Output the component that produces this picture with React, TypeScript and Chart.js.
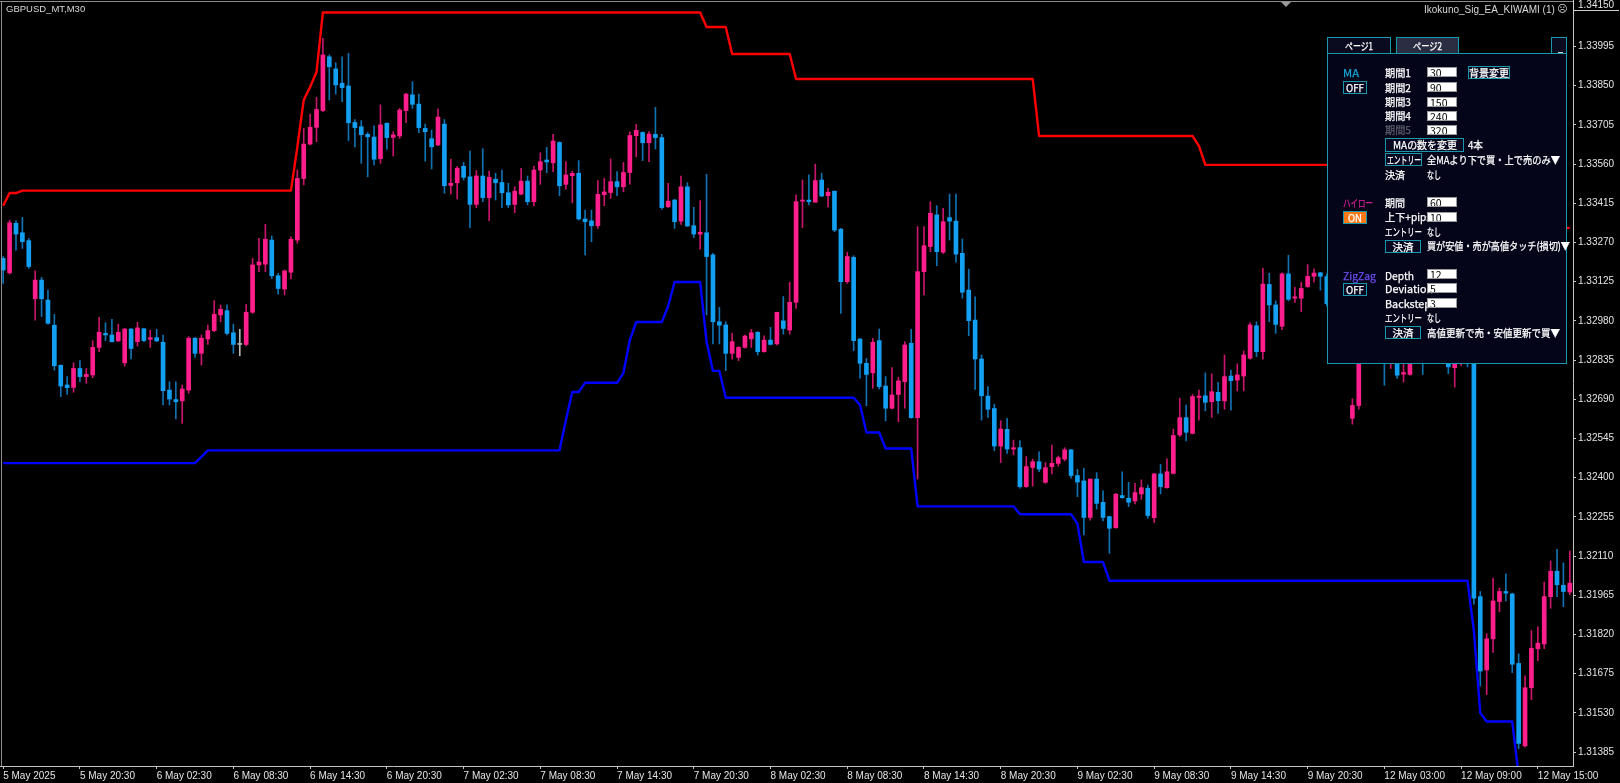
import React, { useEffect, useLayoutEffect, useRef } from 'react';
import { Chart, registerables } from 'chart.js';

Chart.register(...registerables);

// ---------- DATA (GBPUSD M30) ----------
const opens = [
  1.33211, 1.33158, 1.33341, 1.33306, 1.33277, 1.33062, 1.33131, 1.33057, 1.32964, 1.32816,
  1.32743, 1.32734, 1.32804, 1.32774, 1.32780, 1.32882, 1.32934, 1.32928, 1.32906, 1.32825,
  1.32950, 1.32903, 1.32951, 1.32912, 1.32918, 1.32901, 1.32724, 1.32689, 1.32684, 1.32724,
  1.32916, 1.32860, 1.32913, 1.32944, 1.33002, 1.33018, 1.32936, 1.32893, 1.32893, 1.33012,
  1.33187, 1.33190, 1.33279, 1.33147, 1.33098, 1.33160, 1.33279, 1.33507, 1.33634, 1.33696,
  1.33758, 1.33957, 1.33912, 1.33859, 1.33849, 1.33714, 1.33698, 1.33670, 1.33660, 1.33580,
  1.33711, 1.33659, 1.33664, 1.33758, 1.33816, 1.33782, 1.33692, 1.33654, 1.33631, 1.33708,
  1.33481, 1.33491, 1.33552, 1.33513, 1.33411, 1.33516, 1.33436, 1.33504, 1.33492, 1.33454,
  1.33411, 1.33449, 1.33497, 1.33421, 1.33538, 1.33575, 1.33565, 1.33640, 1.33485, 1.33517,
  1.33526, 1.33357, 1.33350, 1.33332, 1.33447, 1.33455, 1.33495, 1.33476, 1.33529, 1.33665,
  1.33677, 1.33639, 1.33670, 1.33658, 1.33402, 1.33427, 1.33349, 1.33476, 1.33332, 1.33301,
  1.33306, 1.33224, 1.32977, 1.32965, 1.32860, 1.32845, 1.32882, 1.32914, 1.32938, 1.32866,
  1.32909, 1.32895, 1.32980, 1.32946, 1.33049, 1.33423, 1.33427, 1.33419, 1.33501, 1.33443,
  1.33460, 1.33319, 1.33125, 1.33215, 1.32913, 1.32823, 1.32788, 1.32907, 1.32739, 1.32657,
  1.32708, 1.32755, 1.32897, 1.32622, 1.33162, 1.33255, 1.33372, 1.33234, 1.33362, 1.33349,
  1.33230, 1.33094, 1.32983, 1.32839, 1.32702, 1.32656, 1.32517, 1.32579, 1.32506, 1.32511,
  1.32367, 1.32438, 1.32459, 1.32383, 1.32441, 1.32453, 1.32469, 1.32503, 1.32408, 1.32388,
  1.32253, 1.32395, 1.32309, 1.32256, 1.32215, 1.32334, 1.32324, 1.32314, 1.32340, 1.32361,
  1.32252, 1.32414, 1.32363, 1.32416, 1.32558, 1.32622, 1.32564, 1.32697, 1.32703, 1.32681,
  1.32716, 1.32684, 1.32776, 1.32761, 1.32776, 1.32842, 1.32962, 1.32866, 1.33115, 1.33039,
  1.32960, 1.33154, 1.33064, 1.33064, 1.33107, 1.33145, 1.33158, 1.33144, 1.33044, 1.33079,
  1.32904, 1.32620, 1.32667, 1.32904, 1.32967, 1.32917, 1.32942, 1.32854, 1.32879, 1.32783,
  1.32782, 1.32854, 1.32892, 1.32842, 1.32867, 1.32904, 1.32854, 1.32807, 1.32829, 1.32854,
  1.32835, 1.31960, 1.31689, 1.31804, 1.31942, 1.31979, 1.31970, 1.31713, 1.31408, 1.31623,
  1.31767, 1.31785, 1.31960, 1.32054, 1.32002, 1.31977,
];
const highs = [
  1.33218, 1.33353, 1.33350, 1.33363, 1.33285, 1.33165, 1.33141, 1.33094, 1.33004, 1.32817,
  1.32774, 1.32825, 1.32833, 1.32804, 1.32907, 1.32993, 1.32973, 1.32986, 1.32968, 1.32952,
  1.32952, 1.32975, 1.32952, 1.32946, 1.32949, 1.32928, 1.32755, 1.32755, 1.32743, 1.32922,
  1.32918, 1.32928, 1.32965, 1.33055, 1.33039, 1.33039, 1.32968, 1.32949, 1.33041, 1.33211,
  1.33285, 1.33337, 1.33294, 1.33156, 1.33168, 1.33291, 1.33538, 1.33692, 1.33745, 1.33807,
  1.34025, 1.33964, 1.33935, 1.33957, 1.33970, 1.33725, 1.33721, 1.33677, 1.33702, 1.33779,
  1.33713, 1.33680, 1.33766, 1.33822, 1.33865, 1.33819, 1.33708, 1.33686, 1.33764, 1.33725,
  1.33578, 1.33551, 1.33566, 1.33608, 1.33536, 1.33617, 1.33534, 1.33526, 1.33538, 1.33489,
  1.33476, 1.33544, 1.33516, 1.33553, 1.33602, 1.33622, 1.33670, 1.33643, 1.33569, 1.33534,
  1.33573, 1.33390, 1.33390, 1.33499, 1.33507, 1.33579, 1.33532, 1.33566, 1.33679, 1.33707,
  1.33680, 1.33680, 1.33770, 1.33670, 1.33489, 1.33430, 1.33516, 1.33491, 1.33400, 1.33425,
  1.33522, 1.33230, 1.33030, 1.32977, 1.32934, 1.32885, 1.32928, 1.32949, 1.32940, 1.32925,
  1.32956, 1.33012, 1.33070, 1.33123, 1.33446, 1.33501, 1.33520, 1.33560, 1.33526, 1.33470,
  1.33460, 1.33322, 1.33234, 1.33221, 1.32915, 1.32841, 1.32915, 1.32950, 1.32774, 1.32807,
  1.32771, 1.32903, 1.32949, 1.33329, 1.33329, 1.33421, 1.33406, 1.33396, 1.33449, 1.33449,
  1.33283, 1.33171, 1.33069, 1.32854, 1.32737, 1.32672, 1.32611, 1.32620, 1.32539, 1.32537,
  1.32478, 1.32468, 1.32496, 1.32456, 1.32521, 1.32480, 1.32511, 1.32505, 1.32431, 1.32435,
  1.32395, 1.32419, 1.32351, 1.32258, 1.32342, 1.32422, 1.32383, 1.32379, 1.32392, 1.32373,
  1.32416, 1.32449, 1.32470, 1.32580, 1.32694, 1.32669, 1.32708, 1.32724, 1.32788, 1.32784,
  1.32752, 1.32854, 1.32798, 1.32821, 1.32869, 1.32973, 1.32977, 1.33174, 1.33156, 1.33054,
  1.33158, 1.33223, 1.33104, 1.33123, 1.33188, 1.33173, 1.33160, 1.33154, 1.33104, 1.33092,
  1.32917, 1.32692, 1.32917, 1.32992, 1.33004, 1.32967, 1.32954, 1.32904, 1.32892, 1.32842,
  1.32879, 1.32917, 1.32917, 1.32904, 1.32929, 1.32917, 1.32867, 1.32854, 1.32879, 1.32867,
  1.32854, 1.31979, 1.31823, 1.32029, 1.31992, 1.32044, 1.31973, 1.31748, 1.31667, 1.31835,
  1.31848, 1.32014, 1.32092, 1.32135, 1.32085, 1.32129,
];
const lows = [
  1.33119, 1.33153, 1.33242, 1.33248, 1.33174, 1.32983, 1.32996, 1.32968, 1.32798, 1.32700,
  1.32708, 1.32716, 1.32755, 1.32749, 1.32770, 1.32866, 1.32907, 1.32902, 1.32903, 1.32813,
  1.32839, 1.32887, 1.32903, 1.32882, 1.32903, 1.32669, 1.32669, 1.32617, 1.32601, 1.32712,
  1.32845, 1.32817, 1.32893, 1.32940, 1.32977, 1.32928, 1.32860, 1.32851, 1.32888, 1.33008,
  1.33162, 1.33162, 1.33137, 1.33079, 1.33076, 1.33135, 1.33267, 1.33483, 1.33631, 1.33643,
  1.33754, 1.33797, 1.33819, 1.33791, 1.33647, 1.33624, 1.33563, 1.33513, 1.33557, 1.33563,
  1.33615, 1.33590, 1.33655, 1.33713, 1.33766, 1.33676, 1.33571, 1.33542, 1.33628, 1.33452,
  1.33449, 1.33431, 1.33501, 1.33325, 1.33399, 1.33421, 1.33351, 1.33427, 1.33399, 1.33399,
  1.33380, 1.33446, 1.33409, 1.33405, 1.33485, 1.33528, 1.33532, 1.33443, 1.33467, 1.33417,
  1.33353, 1.33224, 1.33273, 1.33322, 1.33406, 1.33433, 1.33443, 1.33458, 1.33486, 1.33587,
  1.33573, 1.33569, 1.33616, 1.33393, 1.33400, 1.33322, 1.33337, 1.33329, 1.33288, 1.33245,
  1.33002, 1.32895, 1.32895, 1.32796, 1.32838, 1.32833, 1.32879, 1.32882, 1.32854, 1.32864,
  1.32891, 1.32891, 1.32931, 1.32931, 1.33026, 1.33325, 1.33409, 1.33419, 1.33439, 1.33402,
  1.33310, 1.33008, 1.33119, 1.32870, 1.32768, 1.32666, 1.32731, 1.32728, 1.32610, 1.32654,
  1.32607, 1.32657, 1.32620, 1.32395, 1.33076, 1.33236, 1.33184, 1.33230, 1.33279, 1.33197,
  1.33064, 1.32925, 1.32727, 1.32613, 1.32623, 1.32500, 1.32456, 1.32490, 1.32484, 1.32361,
  1.32364, 1.32369, 1.32422, 1.32379, 1.32414, 1.32443, 1.32462, 1.32398, 1.32330, 1.32188,
  1.32243, 1.32284, 1.32240, 1.32120, 1.32213, 1.32324, 1.32293, 1.32303, 1.32320, 1.32250,
  1.32234, 1.32340, 1.32361, 1.32414, 1.32552, 1.32536, 1.32562, 1.32613, 1.32647, 1.32623,
  1.32638, 1.32653, 1.32650, 1.32721, 1.32721, 1.32838, 1.32848, 1.32838, 1.32977, 1.32934,
  1.32948, 1.33054, 1.33048, 1.33014, 1.33104, 1.33123, 1.33094, 1.33035, 1.33029, 1.32979,
  1.32835, 1.32598, 1.32654, 1.32879, 1.32867, 1.32848, 1.32742, 1.32804, 1.32767, 1.32754,
  1.32779, 1.32829, 1.32782, 1.32823, 1.32842, 1.32829, 1.32785, 1.32735, 1.32814, 1.32810,
  1.31932, 1.31629, 1.31598, 1.31754, 1.31904, 1.31944, 1.31679, 1.31398, 1.31404, 1.31579,
  1.31723, 1.31767, 1.31917, 1.31960, 1.31923, 1.31967,
];
const closes = [
  1.33168, 1.33343, 1.33301, 1.33273, 1.33181, 1.33131, 1.33062, 1.32971, 1.32814, 1.32739,
  1.32733, 1.32804, 1.32774, 1.32782, 1.32882, 1.32938, 1.32928, 1.32903, 1.32938, 1.32950,
  1.32878, 1.32954, 1.32907, 1.32918, 1.32906, 1.32722, 1.32691, 1.32681, 1.32728, 1.32916,
  1.32860, 1.32916, 1.32944, 1.33004, 1.33023, 1.32934, 1.32893, 1.32893, 1.33012, 1.33187,
  1.33198, 1.33282, 1.33147, 1.33100, 1.33165, 1.33282, 1.33507, 1.33634, 1.33696, 1.33762,
  1.33964, 1.33920, 1.33853, 1.33843, 1.33713, 1.33695, 1.33669, 1.33661, 1.33578, 1.33705,
  1.33658, 1.33668, 1.33760, 1.33819, 1.33781, 1.33695, 1.33680, 1.33624, 1.33734, 1.33480,
  1.33489, 1.33545, 1.33511, 1.33411, 1.33516, 1.33436, 1.33511, 1.33491, 1.33454, 1.33409,
  1.33460, 1.33497, 1.33421, 1.33538, 1.33569, 1.33568, 1.33645, 1.33480, 1.33520, 1.33526,
  1.33357, 1.33347, 1.33332, 1.33448, 1.33457, 1.33495, 1.33476, 1.33529, 1.33666, 1.33685,
  1.33639, 1.33671, 1.33658, 1.33399, 1.33423, 1.33347, 1.33476, 1.33331, 1.33301, 1.33308,
  1.33218, 1.32977, 1.32964, 1.32860, 1.32903, 1.32882, 1.32924, 1.32936, 1.32866, 1.32909,
  1.32893, 1.33012, 1.32952, 1.33049, 1.33421, 1.33427, 1.33421, 1.33499, 1.33442, 1.33456,
  1.33316, 1.33125, 1.33218, 1.32907, 1.32823, 1.32782, 1.32901, 1.32737, 1.32657, 1.32706,
  1.32758, 1.32891, 1.32622, 1.33162, 1.33258, 1.33378, 1.33236, 1.33347, 1.33349, 1.33227,
  1.33086, 1.32981, 1.32839, 1.32703, 1.32653, 1.32517, 1.32580, 1.32506, 1.32511, 1.32367,
  1.32441, 1.32459, 1.32432, 1.32437, 1.32453, 1.32474, 1.32503, 1.32408, 1.32384, 1.32253,
  1.32395, 1.32305, 1.32253, 1.32213, 1.32339, 1.32326, 1.32309, 1.32345, 1.32363, 1.32260,
  1.32414, 1.32367, 1.32422, 1.32556, 1.32622, 1.32568, 1.32700, 1.32702, 1.32679, 1.32718,
  1.32685, 1.32774, 1.32759, 1.32780, 1.32854, 1.32965, 1.32866, 1.33116, 1.33039, 1.32967,
  1.33154, 1.33060, 1.33069, 1.33100, 1.33145, 1.33157, 1.33145, 1.33044, 1.33079, 1.32992,
  1.32854, 1.32667, 1.32904, 1.32967, 1.32917, 1.32942, 1.32854, 1.32879, 1.32779, 1.32789,
  1.32854, 1.32892, 1.32842, 1.32867, 1.32904, 1.32854, 1.32810, 1.32829, 1.32854, 1.32835,
  1.31954, 1.31685, 1.31804, 1.31944, 1.31979, 1.31973, 1.31710, 1.31417, 1.31623, 1.31769,
  1.31788, 1.31960, 1.32054, 1.32004, 1.31979, 1.32010,
];

// Hi-Lo channel lines, as [value, number of bars] runs
const upperBandRuns: [number, number][] = [
  [1.33406, 1], [1.33453, 2], [1.33462, 43], [1.33623, 1], [1.33797, 1], [1.33845, 1],
  [1.33901, 1], [1.34121, 60], [1.34067, 4], [1.33967, 10], [1.33875, 38], [1.33664, 25],
  [1.33627, 1], [1.33557, 21], [1.33386, 2], [1.33324, 35],
];
const lowerBandRuns: [number, number][] = [
  [1.32454, 31], [1.32477, 1], [1.32501, 56], [1.32613, 1], [1.32717, 2], [1.32751, 6],
  [1.32788, 1], [1.32909, 1], [1.32976, 5], [1.33035, 1], [1.33124, 5], [1.32902, 1],
  [1.32795, 2], [1.32696, 21], [1.32669, 1], [1.32567, 3], [1.32508, 5], [1.32294, 16],
  [1.32265, 9], [1.32230, 1], [1.32088, 4], [1.32019, 57], [1.31833, 1], [1.31530, 1],
  [1.31498, 5], [1.31298, 9],
];

// x-axis labels, one every 12 bars
const timeLabels = [
  '5 May 2025', '5 May 20:30', '6 May 02:30', '6 May 08:30', '6 May 14:30', '6 May 20:30',
  '7 May 02:30', '7 May 08:30', '7 May 14:30', '7 May 20:30', '8 May 02:30', '8 May 08:30',
  '8 May 14:30', '8 May 20:30', '9 May 02:30', '9 May 08:30', '9 May 14:30', '9 May 20:30',
  '12 May 03:00', '12 May 09:00', '12 May 15:00',
];
const labelEvery = 12;

const priceTicks = [
  1.31385, 1.3153, 1.31675, 1.3182, 1.31965, 1.3211, 1.32255, 1.324, 1.32545, 1.3269,
  1.32835, 1.3298, 1.33125, 1.3327, 1.33415, 1.3356, 1.33705, 1.3385, 1.33995,
];
const topPriceLabel = '1.34150';
const Y_MIN = 1.313336;
const Y_MAX = 1.34167;

const symbolLabel = 'GBPUSD_MT,M30';
const eaLabel = 'Ikokuno_Sig_EA_KIWAMI (1)';

// ---------- STYLE ----------
const BULL = '#ff1f8c';
const BULL_WICK = '#c8166c';
const BEAR = '#139ff2';
const BEAR_WICK = '#0f72b2';
const DOJI = '#b8b8b8';
const AXIS_LINE = '#c4c4c4';
const AXIS_TEXT = '#e4e4e4';
const PANEL_BORDER = '#1699ad';
const PANEL_BG = '#05051a';
const JP = '"Noto Sans CJK JP", "Noto Sans", sans-serif';

const expand = (runs: [number, number][]) => runs.flatMap(([v, n]) => Array(n).fill(v));

// Text fitted to a measured width (left edge x, vertical centre y)
type FProps = { x: number; y: number; w: number; color?: string; children: React.ReactNode; size?: number };
function Fit({ x, y, w, color = '#ffffff', children, size = 10.5 }: FProps) {
  const r = useRef<HTMLSpanElement>(null);
  useLayoutEffect(() => {
    const el = r.current;
    if (!el) return;
    el.style.transform = 'none';
    const actual = el.getBoundingClientRect().width;
    if (actual > 0) el.style.transform = `scaleX(${w / actual})`;
  }, [w]);
  return (
    <span
      ref={r}
      style={{
        position: 'absolute', left: x, top: y - 7, height: 14, lineHeight: '14px', display: 'inline-block',
        fontSize: size, color, whiteSpace: 'nowrap', fontFamily: JP, transformOrigin: '0 50%',
        zIndex: 3, WebkitTextStroke: `0.25px ${color}`,
      }}
    >
      {children}
    </span>
  );
}

type BProps = { x: number; y: number; w: number; h: number; bg?: string; label?: string; tw?: number };
function Btn({ x, y, w, h, bg = '#080820', label, tw = 0 }: BProps) {
  return (
    <>
      <div
        style={{
          position: 'absolute', left: x, top: y, width: w, height: h, boxSizing: 'border-box',
          border: `1px solid ${PANEL_BORDER}`, background: bg, zIndex: 2,
        }}
      />
      {label ? <Fit x={x + (w - tw) / 2} y={y + h / 2} w={tw}>{label}</Fit> : null}
    </>
  );
}

function Inp({ x, y, v }: { x: number; y: number; v: string }) {
  return (
    <div
      style={{
        position: 'absolute', left: x, top: y, width: 30, height: 10, boxSizing: 'border-box',
        background: '#ffffff', border: '1px solid #9a9a9a', color: '#000', fontSize: 10.5,
        lineHeight: '9px', paddingLeft: 2, fontFamily: JP, overflow: 'hidden', zIndex: 4,
      }}
    >
      {v}
    </div>
  );
}

export default function App() {
  const ref = useRef<HTMLCanvasElement>(null);

  useEffect(() => {
    const N = opens.length;
    const labels = Array.from({ length: N }, (_, i) =>
      i % labelEvery === 0 ? timeLabels[i / labelEvery] ?? '' : ''
    );
    const dir = opens.map((o, i) => (closes[i] > o ? 1 : closes[i] < o ? -1 : 0));
    const bodyColors = dir.map((d) => (d > 0 ? BULL : d < 0 ? BEAR : DOJI));
    const wickColors = dir.map((d) => (d > 0 ? BULL_WICK : d < 0 ? BEAR_WICK : DOJI));

    const chart = new Chart(ref.current as HTMLCanvasElement, {
      type: 'bar',
      data: {
        labels,
        datasets: [
          {
            type: 'bar',
            data: lows.map((l, i) => [l, highs[i]]),
            backgroundColor: wickColors,
            barThickness: 1,
            grouped: false,
            borderWidth: 0,
            order: 3,
          } as any,
          {
            type: 'bar',
            data: opens.map((o, i) => [o, closes[i]]),
            backgroundColor: bodyColors,
            barThickness: 4,
            grouped: false,
            borderWidth: 0,
            minBarLength: 1,
            order: 2,
          } as any,
          {
            type: 'line',
            data: expand(upperBandRuns),
            borderColor: '#ff0000',
            borderWidth: 2.4,
            pointRadius: 0,
            tension: 0,
            borderJoinStyle: 'round',
            order: 1,
          } as any,
          {
            type: 'line',
            data: expand(lowerBandRuns),
            borderColor: '#0000ff',
            borderWidth: 2.4,
            pointRadius: 0,
            tension: 0,
            borderJoinStyle: 'round',
            order: 1,
          } as any,
        ],
      },
      options: {
        responsive: false,
        devicePixelRatio: 1,
        animation: false,
        events: [],
        layout: { padding: 0 },
        plugins: { legend: { display: false }, tooltip: { enabled: false } },
        scales: {
          x: {
            type: 'category',
            offset: true,
            grid: { offset: false, drawOnChartArea: false, drawTicks: true, tickLength: 3, color: AXIS_LINE },
            border: { color: AXIS_LINE, width: 1 },
            ticks: {
              autoSkip: false,
              maxRotation: 0,
              minRotation: 0,
              align: 'start',
              padding: 1,
              color: AXIS_TEXT,
              font: { family: 'Liberation Sans', size: 10 },
              callback: (_v: any, i: number) => (labels[i] ? labels[i] : null),
            },
            afterFit: (axis: any) => {
              axis.height = 17;
              axis.paddingLeft = 0;
              axis.paddingRight = 0;
              axis.paddingTop = 0;
              axis.paddingBottom = 0;
            },
          } as any,
          y: {
            type: 'linear',
            position: 'right',
            min: Y_MIN,
            max: Y_MAX,
            afterBuildTicks: (axis: any) => {
              axis.ticks = priceTicks.map((v) => ({ value: v }));
            },
            grid: { drawOnChartArea: false, drawTicks: true, tickLength: 3, color: AXIS_LINE },
            border: { color: AXIS_LINE, width: 1 },
            ticks: {
              padding: 2,
              color: AXIS_TEXT,
              font: { family: 'Liberation Sans', size: 10 },
              callback: (v: any) => Number(v).toFixed(5),
            },
            afterFit: (axis: any) => {
              axis.width = 47;
              axis.paddingTop = 0;
              axis.paddingBottom = 0;
              axis.paddingLeft = 0;
              axis.paddingRight = 0;
            },
          } as any,
        },
      },
    });
    return () => chart.destroy();
  }, []);

  return (
    <div
      style={{
        position: 'fixed', left: 0, top: 0, width: 1620, height: 783, background: '#000',
        overflow: 'hidden', fontFamily: '"Liberation Sans", Arial, sans-serif',
      }}
    >
      <canvas ref={ref} width={1620} height={783} style={{ position: 'absolute', left: 0, top: 0, width: 1620, height: 783 }} />

      {/* chart frame */}
      <div style={{ position: 'absolute', left: 0, top: 1, width: 1573, height: 1, background: '#8c8c8c' }} />
      <div style={{ position: 'absolute', left: 1, top: 1, width: 1, height: 765, background: '#8c8c8c' }} />
      <div
        style={{
          position: 'absolute', left: 1281, top: 2, width: 0, height: 0,
          borderLeft: '5px solid transparent', borderRight: '5px solid transparent', borderTop: '5px solid #9a9a9a',
        }}
      />

      {/* top-left & top-right captions */}
      <div style={{ position: 'absolute', left: 6, top: 3, fontSize: 9.5, color: '#d8d8d8', whiteSpace: 'nowrap', lineHeight: '12px' }}>
        {symbolLabel}
      </div>
      <div style={{ position: 'absolute', left: 1424, top: 4, fontSize: 10, color: '#d8d8d8', whiteSpace: 'nowrap', lineHeight: '12px' }}>
        {eaLabel}
      </div>
      <div style={{ position: 'absolute', left: 1557, top: 3, fontSize: 10, color: '#d8d8d8', lineHeight: '12px', fontFamily: '"DejaVu Sans", sans-serif' }}>
        ☹
      </div>
      <div
        style={{
          position: 'absolute', left: 1573, top: 0, width: 46, height: 11, boxSizing: 'border-box',
          border: '1px solid #d0d0d0', borderTop: 'none', borderRight: 'none', background: '#000',
          color: AXIS_TEXT, fontSize: 10, lineHeight: '10px', paddingLeft: 4, whiteSpace: 'nowrap',
        }}
      >
        {topPriceLabel}
      </div>

      {/* EA control panel */}
      <div style={{ position: 'absolute', left: 1327, top: 53, width: 240, height: 311, boxSizing: 'border-box', border: `1px solid ${PANEL_BORDER}`, background: PANEL_BG, zIndex: 1 }} />
      <Btn x={1327} y={37} w={64} h={17} bg="#0b0b1f" label="ページ1" tw={28} />
      <Btn x={1396} y={37} w={63} h={17} bg="#2b2d42" label="ページ2" tw={29} />
      <Btn x={1551} y={37} w={16} h={17} bg="#0b0b1f" />
      <div style={{ position: 'absolute', left: 1558, top: 52, width: 5, height: 1, background: '#cfcfcf', zIndex: 3 }} />

      <Fit x={1343} y={73} w={16} color="#18a6d6">MA</Fit>
      <Btn x={1343} y={81} w={24} h={13} label="OFF" tw={18} />
      <Fit x={1385} y={73} w={26}>期間1</Fit>
      <Inp x={1427} y={67} v="30" />
      <Btn x={1468} y={66} w={42} h={13} label="背景変更" tw={40} />
      <Fit x={1385} y={88} w={26}>期間2</Fit>
      <Inp x={1427} y={82} v="90" />
      <Fit x={1385} y={102} w={26}>期間3</Fit>
      <Inp x={1427} y={97} v="150" />
      <Fit x={1385} y={116} w={26}>期間4</Fit>
      <Inp x={1427} y={111} v="240" />
      <Fit x={1385} y={130} w={26} color="#5c5c6a">期間5</Fit>
      <Inp x={1427} y={125} v="320" />
      <Btn x={1385} y={138} w={79} h={14} label="MAの数を変更" tw={64} />
      <Fit x={1468} y={145} w={15}>4本</Fit>
      <Btn x={1385} y={153} w={37} h={13} label="エントリー" tw={34} />
      <Fit x={1427} y={160} w={133}>全MAより下で買・上で売のみ▼</Fit>
      <Fit x={1385} y={175} w={20}>決済</Fit>
      <Fit x={1427} y={175} w={14}>なし</Fit>

      <Fit x={1343} y={203} w={30} color="#d0208e">ハイロー</Fit>
      <Btn x={1343} y={211} w={24} h={13} bg="#ff7818" label="ON" tw={14} />
      <Fit x={1385} y={203} w={20}>期間</Fit>
      <Inp x={1427} y={197} v="60" />
      <Fit x={1385} y={217} w={46}>上下+pips</Fit>
      <Inp x={1427} y={212} v="10" />
      <Fit x={1385} y={232} w={37}>エントリー</Fit>
      <Fit x={1427} y={232} w={14}>なし</Fit>
      <Btn x={1385} y={240} w={36} h={13} label="決済" tw={21} />
      <Fit x={1427} y={246} w={143}>買が安値・売が高値タッチ(損切)▼</Fit>

      <Fit x={1343} y={276} w={33} color="#6a4cf0">ZigZag</Fit>
      <Btn x={1343} y={283} w={24} h={13} label="OFF" tw={18} />
      <Fit x={1385} y={276} w={29}>Depth</Fit>
      <Inp x={1427} y={269} v="12" />
      <Fit x={1385} y={289} w={48}>Deviation</Fit>
      <Inp x={1427} y={283} v="5" />
      <Fit x={1385} y={304} w={46}>Backstep</Fit>
      <Inp x={1427} y={298} v="3" />
      <Fit x={1385} y={318} w={37}>エントリー</Fit>
      <Fit x={1427} y={318} w={14}>なし</Fit>
      <Btn x={1385} y={326} w={36} h={13} label="決済" tw={21} />
      <Fit x={1427} y={333} w={133}>高値更新で売・安値更新で買▼</Fit>
    </div>
  );
}
